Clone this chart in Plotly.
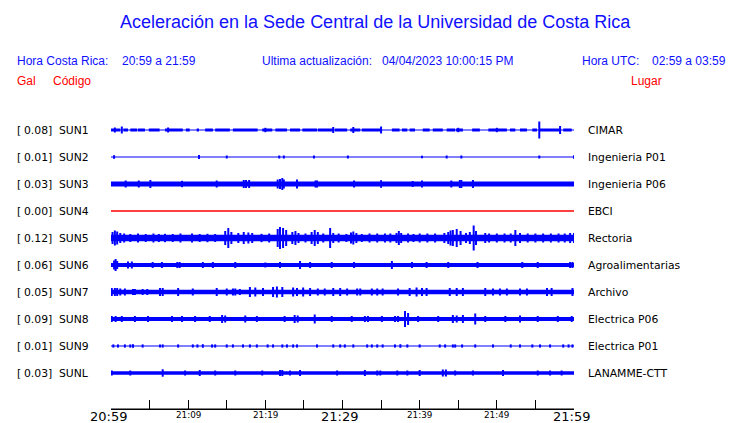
import plotly.graph_objects as go

# ---------------- data ----------------
STATIONS = ["SUN1", "SUN2", "SUN3", "SUN4", "SUN5", "SUN6", "SUN7", "SUN8", "SUN9", "SUNL"]
GAL = [0.08, 0.01, 0.03, 0.00, 0.12, 0.06, 0.05, 0.09, 0.01, 0.03]
PLACES = ["CIMAR", "Ingenieria P01", "Ingenieria P06", "EBCI", "Rectoria",
          "Agroalimentarias", "Archivo", "Electrica P06", "Electrica P01", "LANAMME-CTT"]
TRACE_COLORS = ["#0000ff", "#0000ff", "#0000ff", "#ff0000", "#0000ff",
                "#0000ff", "#0000ff", "#0000ff", "#0000ff", "#0000ff"]

# half-width of the continuous band of each trace (screen px at the reference scale)
BASE_HW = [0.5, 0.6, 2.4, 0.7, 3.2, 1.9, 2.2, 1.9, 0.6, 1.7]

# SUN1 alternates between a thin line and thicker packets: (start min, end min)
SUN1_PACKETS = [(0, 1.2), (1.6, 2.2), (2.5, 3.4), (3.5, 4.4), (4.9, 6.3), (7.0, 9.3),
                (9.7, 10.2), (11.1, 11.4), (12.2, 13.2), (13.5, 15.4), (15.8, 19.0),
                (19.6, 20.9), (21.3, 22.8), (23.2, 24.5), (24.8, 26.7), (26.8, 28.8),
                (29.0, 30.6), (31.0, 32.3), (32.5, 35.1), (36.4, 37.4), (37.7, 38.4),
                (38.7, 39.4), (40.4, 41.3), (41.7, 43.0), (43.5, 44.6), (44.7, 45.6),
                (46.8, 47.8), (48.9, 51.3), (51.7, 52.4), (53.0, 53.9), (54.6, 55.2),
                (55.6, 58.2), (58.6, 59.7)]
SUN1_PACKET_HW = 1.4

# spikes: (minute after 20:59, half amplitude in px)
SPIKES = {
    "SUN1": [(0.5, 2.5), (1.4, 3.5), (7.4, 2.5), (20.0, 2.2), (28.8, 3.0), (31.4, 3.0),
             (35.0, 3.5), (45.0, 2.2), (50.0, 2.2), (55.5, 8.5), (58.2, 4.0)],
    "SUN2": [(0.4, 1.8), (11.4, 2.0), (15.0, 1.5), (21.8, 1.5), (22.4, 1.5), (26.3, 1.5),
             (30.7, 1.5), (40.3, 1.3), (43.5, 1.5), (45.4, 1.5), (55.5, 1.5), (60.0, 1.8)],
    "SUN3": [(1.9, 3.5), (3.6, 3.5), (5.1, 4.0), (9.2, 3.2), (13.7, 3.5), (17.2, 4.0),
             (17.5, 4.0), (17.9, 4.0), (21.6, 4.5), (21.9, 5.0), (22.2, 6.0), (22.4, 4.5),
             (24.1, 4.5), (26.5, 3.5), (26.7, 3.5), (31.5, 3.5), (35.0, 3.8), (39.1, 3.0),
             (40.3, 3.5), (44.1, 3.5), (45.2, 4.0), (45.4, 4.0), (46.9, 4.0)],
    "SUN4": [],
    "SUN5": [(0.2, 6.0), (0.5, 7.5), (0.8, 6.5), (1.2, 5.0), (1.7, 4.5), (2.5, 4.0),
             (3.5, 4.5), (4.5, 4.0), (5.5, 4.5), (6.2, 4.0), (7.0, 4.2), (8.0, 4.0),
             (9.0, 4.5), (10.5, 4.5), (11.5, 4.0), (12.5, 4.2), (13.5, 4.0), (14.8, 7.0),
             (15.2, 10.0), (15.6, 6.0), (16.5, 5.0), (17.2, 6.0), (17.8, 5.5), (18.3, 5.0),
             (19.5, 4.2), (20.5, 4.5), (21.6, 9.0), (21.9, 11.0), (22.3, 10.0), (22.7, 8.0),
             (23.5, 6.0), (23.9, 7.0), (24.3, 5.0), (25.2, 4.5), (26.0, 6.0), (26.4, 8.0),
             (26.8, 6.0), (27.5, 4.5), (28.4, 10.0), (28.8, 5.0), (29.5, 4.5), (30.5, 4.0),
             (31.1, 5.5), (31.4, 6.5), (31.8, 5.0), (32.5, 4.0), (33.5, 4.5), (34.5, 4.5),
             (35.5, 4.5), (36.2, 4.5), (37.0, 5.0), (37.3, 7.0), (37.6, 5.0), (38.5, 4.5),
             (39.2, 4.0), (40.0, 4.5), (41.0, 4.5), (42.0, 4.5), (43.2, 5.0), (43.7, 6.0),
             (44.0, 7.5), (44.3, 8.0), (44.8, 9.0), (45.3, 7.0), (46.0, 5.0), (46.5, 6.0),
             (47.0, 12.5), (47.3, 7.0), (48.5, 5.0), (49.0, 4.5), (50.0, 4.5), (51.0, 4.5),
             (51.8, 4.5), (52.4, 8.0), (53.0, 5.0), (54.0, 4.5), (55.0, 4.5), (56.0, 4.5),
             (57.0, 4.5), (58.0, 4.5), (58.8, 4.5), (59.5, 5.0), (60.0, 5.0)],
    "SUN6": [(0.4, 4.5), (0.6, 6.0), (0.8, 4.0), (2.2, 3.5), (2.7, 3.5), (5.4, 3.0),
             (6.6, 3.0), (8.6, 3.0), (8.9, 3.0), (11.9, 3.0), (13.2, 3.0), (16.1, 3.0),
             (20.0, 2.5), (21.9, 3.0), (24.5, 4.0), (25.8, 3.0), (28.6, 3.0), (31.5, 3.0),
             (36.4, 4.0), (39.0, 3.0), (40.9, 3.0), (43.7, 3.0), (47.5, 3.0), (53.3, 3.0),
             (55.3, 3.0), (59.5, 3.0), (59.8, 3.0)],
    "SUN7": [(0.1, 4.0), (0.5, 4.0), (0.8, 4.0), (1.2, 3.5), (1.8, 3.5), (2.85, 3.0),
             (3.1, 3.0), (4.1, 3.0), (4.7, 3.0), (6.35, 4.0), (6.7, 4.0), (8.7, 4.0),
             (10.6, 3.5), (13.7, 4.0), (15.0, 3.5), (15.8, 3.5), (16.1, 3.5), (16.7, 3.0),
             (18.0, 5.0), (18.7, 4.5), (19.7, 4.0), (21.0, 5.0), (21.5, 5.5), (22.2, 5.0),
             (23.6, 4.5), (24.1, 4.0), (24.9, 4.5), (25.8, 4.0), (26.8, 3.5), (27.7, 3.5),
             (28.8, 4.0), (29.7, 4.0), (30.6, 3.5), (31.9, 3.5), (32.3, 3.5), (33.8, 3.5),
             (34.5, 3.5), (35.2, 3.5), (37.2, 3.5), (38.7, 4.0), (39.6, 4.5), (40.3, 4.0),
             (40.9, 4.0), (43.9, 4.0), (44.8, 4.0), (45.6, 4.0), (48.5, 4.0), (49.5, 3.5),
             (50.4, 3.5), (51.3, 3.5), (53.0, 3.5), (53.9, 3.5), (56.5, 4.0), (57.1, 4.0),
             (59.8, 4.0)],
    "SUN8": [(0.1, 3.0), (0.6, 3.0), (1.4, 3.0), (3.1, 3.0), (4.8, 3.0), (7.9, 3.0),
             (9.2, 3.0), (10.9, 3.0), (12.8, 3.0), (14.4, 4.0), (14.8, 3.5), (17.4, 3.5),
             (18.9, 3.0), (22.5, 3.0), (23.8, 4.0), (24.2, 3.5), (26.4, 4.5), (28.6, 3.0),
             (31.2, 3.0), (32.9, 3.0), (33.3, 3.0), (35.1, 3.0), (36.8, 3.0), (37.2, 3.0),
             (38.1, 8.0), (38.5, 6.0), (39.8, 3.0), (42.4, 3.0), (44.3, 4.0), (44.8, 3.5),
             (45.6, 4.0), (47.2, 5.5), (48.5, 3.0), (51.1, 3.0), (53.0, 3.5), (55.3, 3.0),
             (57.9, 3.0), (59.7, 3.0)],
    "SUN9": [(0.3, 1.6), (0.9, 1.6), (1.8, 1.6), (2.5, 1.6), (2.85, 1.8), (4.1, 1.6),
             (6.35, 1.6), (6.7, 1.6), (8.7, 1.6), (10.6, 1.6), (11.2, 1.6), (11.9, 1.8),
             (13.1, 1.6), (13.5, 1.6), (15.0, 1.6), (15.8, 1.6), (17.1, 1.6), (18.0, 1.6),
             (18.9, 1.6), (20.3, 1.6), (21.0, 1.6), (22.2, 1.6), (22.8, 1.6), (23.6, 1.6),
             (24.1, 1.6), (26.7, 1.6), (28.8, 1.6), (29.7, 1.6), (30.3, 1.6), (31.4, 1.6),
             (33.2, 1.6), (33.8, 1.6), (34.5, 1.6), (35.2, 1.6), (36.8, 1.6), (37.5, 1.8),
             (38.4, 1.6), (40.0, 1.6), (42.6, 1.6), (43.3, 1.6), (44.3, 1.6), (44.6, 1.6),
             (45.5, 1.6), (47.2, 1.6), (49.5, 1.6), (51.8, 1.6), (53.0, 1.6), (54.6, 1.6),
             (55.6, 1.6), (56.9, 1.6), (58.6, 1.6), (59.3, 1.6), (59.8, 1.6)],
    "SUNL": [(0.1, 2.5), (2.5, 2.5), (6.7, 3.7), (9.6, 2.5), (11.5, 3.0), (13.5, 2.5),
             (16.1, 2.5), (19.6, 2.5), (21.9, 3.0), (22.2, 3.0), (23.2, 2.5), (24.5, 3.0),
             (29.3, 2.5), (32.9, 3.0), (34.5, 2.5), (34.9, 2.5), (37.1, 2.5), (38.4, 2.5),
             (40.0, 3.0), (43.0, 3.5), (43.4, 3.5), (44.6, 2.5), (46.9, 2.5), (50.8, 3.0),
             (55.3, 2.5), (56.9, 2.5), (58.4, 2.5)],
}

TICK_MINUTES = [0, 5, 10, 15, 20, 25, 30, 35, 40, 45, 50, 55, 60]
MAJOR_LABELS = {0: "20:59", 30: "21:29", 60: "21:59"}
MINOR_LABELS = {10: "21:09", 20: "21:19", 40: "21:39", 50: "21:49"}

TITLE = "Aceleración en la Sede Central de la Universidad de Costa Rica"

# ---------------- layout geometry ----------------
W, H = 740, 423
ML, MR, MT, MB = 111, 166, 100, 14
PLOT_W = W - ML - MR
PLOT_H = H - MT - MB
ROW_PX = 27.0          # pixel spacing of the traces
FIRST_ROW_PX = 130.0   # pixel y of the first trace
Y_TOP = -(FIRST_ROW_PX - MT) / ROW_PX
Y_BOT = Y_TOP + PLOT_H / ROW_PX


def px_x(px):
    return (px - ML) / PLOT_W


def px_y(py):
    return (H - MB - py) / PLOT_H


def amp(v):
    return v / ROW_PX


fig = go.Figure()

for i, name in enumerate(STATIONS):
    col = TRACE_COLORS[i]
    hw = amp(BASE_HW[i])
    # continuous band
    fig.add_trace(go.Scatter(
        x=[0, 60, 60, 0, 0], y=[i - hw, i - hw, i + hw, i + hw, i - hw],
        mode="lines", fill="toself", fillcolor=col, line=dict(width=0, color=col),
        hoverinfo="skip", showlegend=False))
    if name == "SUN1":
        xs, ys = [], []
        ph = amp(SUN1_PACKET_HW)
        for a, b in SUN1_PACKETS:
            xs += [a, b, b, a, a, None]
            ys += [i - ph, i - ph, i + ph, i + ph, i - ph, None]
        fig.add_trace(go.Scatter(x=xs, y=ys, mode="lines", fill="toself", fillcolor=col,
                                 line=dict(width=0, color=col), hoverinfo="skip",
                                 showlegend=False))
    sp = SPIKES[name]
    if sp:
        xs, ys = [], []
        for m, a in sp:
            xs += [m, m, None]
            ys += [i - amp(a), i + amp(a), None]
        fig.add_trace(go.Scatter(x=xs, y=ys, mode="lines", line=dict(width=2.0, color=col),
                                 hoverinfo="skip", showlegend=False))

ann = []
lab_font = dict(family="DejaVu Sans", size=10.8, color="#000000")
for i, name in enumerate(STATIONS):
    yp = px_y(FIRST_ROW_PX + i * ROW_PX)
    ann.append(dict(x=px_x(15), y=yp, xref="paper", yref="paper", text="[",
                    xanchor="left", yanchor="middle", showarrow=False, font=lab_font))
    ann.append(dict(x=px_x(54), y=yp, xref="paper", yref="paper", text=f"{GAL[i]:.2f}]",
                    xanchor="right", yanchor="middle", showarrow=False, font=lab_font))
    ann.append(dict(x=px_x(57), y=yp, xref="paper", yref="paper", text=name,
                    xanchor="left", yanchor="middle", showarrow=False, font=lab_font))
    ann.append(dict(x=px_x(586), y=yp, xref="paper", yref="paper", text=PLACES[i],
                    xanchor="left", yanchor="middle", showarrow=False, font=lab_font))

for m, t in MAJOR_LABELS.items():
    ann.append(dict(x=m, y=0, xref="x", yref="paper", text=t, xanchor="center",
                    yanchor="middle", yshift=-7, xshift=-3, showarrow=False,
                    font=dict(family="DejaVu Sans", size=13, color="#000000")))
for m, t in MINOR_LABELS.items():
    ann.append(dict(x=m, y=0, xref="x", yref="paper", text=t, xanchor="center",
                    yanchor="middle", yshift=-6, showarrow=False,
                    font=dict(family="DejaVu Sans", size=8.8, color="#000000")))

hdr = dict(family="Liberation Sans", size=12, color="#1010ff")
red = dict(family="Liberation Sans", size=12, color="#ff0000")
ann.append(dict(x=px_x(375), y=px_y(22), xref="paper", yref="paper", text=TITLE,
                xanchor="center", yanchor="middle", showarrow=False,
                font=dict(family="Liberation Sans", size=18, color="#1010ff")))
for px, py, t, f in [(15, 61, "Hora Costa Rica:", hdr), (120, 61, "20:59 a 21:59", hdr),
                     (260, 61, "Ultima actualización:", hdr),
                     (380, 61, "04/04/2023 10:00:15 PM", hdr),
                     (580, 61, "Hora UTC:", hdr), (650, 61, "02:59 a 03:59", hdr),
                     (15, 81, "Gal", red), (51, 81, "Código", red), (629, 81, "Lugar", red)]:
    ann.append(dict(x=px_x(px), y=px_y(py), xref="paper", yref="paper", text=t,
                    xanchor="left", yanchor="middle", showarrow=False, font=f))

fig.update_layout(
    width=W, height=H, margin=dict(l=ML, r=MR, t=MT, b=MB, pad=0),
    paper_bgcolor="#ffffff", plot_bgcolor="#ffffff",
    xaxis=dict(range=[0, 60], showgrid=False, zeroline=False, showline=True,
               linecolor="#000000", linewidth=1, ticks="inside", ticklen=9,
               tickcolor="#000000", tickwidth=1, tickvals=TICK_MINUTES,
               showticklabels=False, fixedrange=True),
    yaxis=dict(range=[Y_BOT, Y_TOP], visible=False, fixedrange=True),
    shapes=[dict(type="line", xref="x", yref="paper", x0=0, x1=60, y0=0, y1=0,
                 line=dict(color="#000000", width=1.2))],
    annotations=ann, showlegend=False,
)

fig.write_html("out.html", config={"displayModeBar": False},
               post_script="document.body.style.margin='0px';document.body.style.overflow='hidden';")
